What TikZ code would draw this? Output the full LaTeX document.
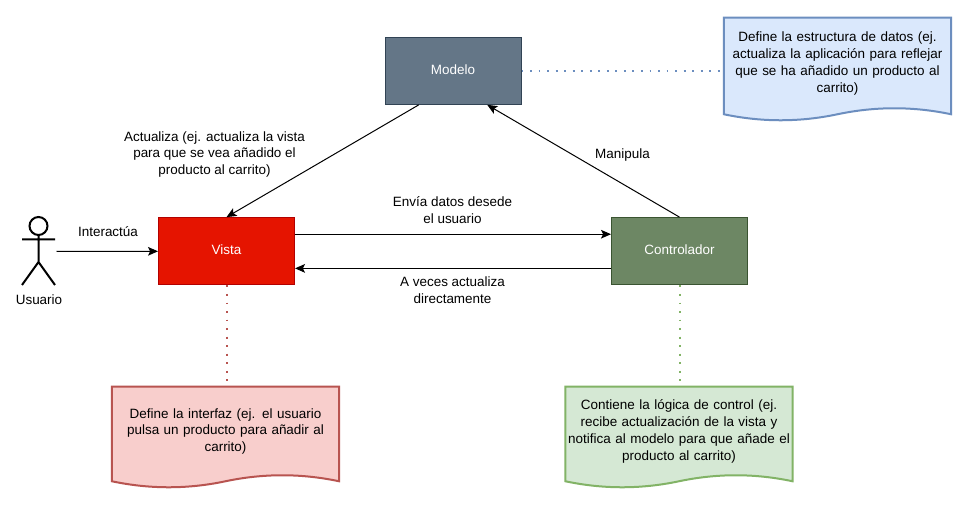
\documentclass[tikz,border=0pt]{standalone}
\usepackage{fontspec}
\setmainfont{Liberation Sans}
\usetikzlibrary{arrows.meta,calc,backgrounds}
\definecolor{modelofill}{HTML}{647687}\definecolor{modeloline}{HTML}{314354}
\definecolor{vistafill}{HTML}{E51400}\definecolor{vistaline}{HTML}{B20000}
\definecolor{ctrlfill}{HTML}{6D8764}\definecolor{ctrlline}{HTML}{3A5431}
\definecolor{bluefill}{HTML}{DAE8FC}\definecolor{blueline}{HTML}{6C8EBF}
\definecolor{redfill}{HTML}{F8CECC}\definecolor{redline}{HTML}{B85450}
\definecolor{greenfill}{HTML}{D5E8D4}\definecolor{greenline}{HTML}{82B366}
\tikzset{
  x=0.75pt,y=-0.75pt,
  txt/.style={font=\fontsize{10.1}{12.6}\selectfont,align=center,text=black,inner sep=0pt},
  mvc/.style={font=\fontsize{10.1}{12.6}\selectfont,text=white,inner sep=0pt,minimum width=102pt,minimum height=50.5pt,line width=.75pt},
  docnode/.style={font=\fontsize{10.1}{12.6}\selectfont,align=center,text=black,inner sep=0pt,minimum width=170pt,text width=170pt},
  flow/.style={line width=.75pt,draw=black,-{Stealth[length=7.5pt,width=6.5pt,inset=1.6pt]}},
  link/.style={line width=1.5pt,dash pattern=on 1.4pt off 5pt},
  actorline/.style={line width=1.5pt,draw=black}
}
\newcommand{\docwave}[3]{%
  \begin{pgfonlayer}{background}
  \coordinate (L) at ($(#1.south west)+(0,5)$);
  \coordinate (R) at ($(#1.south east)+(0,5)$);
  \draw[fill=#2,draw=#3,line width=1.5pt,line join=miter]
    (#1.north west) -- (#1.north east) -- (R)
    .. controls ($(R)!1/6!(L)+(0,-8)$) and ($(R)!1/3!(L)+(0,-8)$) .. ($(R)!1/2!(L)$)
    .. controls ($(R)!2/3!(L)+(0,8)$) and ($(R)!5/6!(L)+(0,8)$) .. (L) -- cycle;
  \end{pgfonlayer}}
\newcommand{\boxtext}[1]{\raisebox{2.1pt}{#1}}
\begin{document}
\begin{tikzpicture}
\begin{pgfonlayer}{background}
\fill[white] (0,0) rectangle (967,505);
\end{pgfonlayer}
\useasboundingbox (0,0) rectangle (967,505);
% main boxes
\node[mvc,fill=modelofill,draw=modeloline] (modelo) at (453,70.7) {\boxtext{Modelo}};
\node[mvc,fill=vistafill,draw=vistaline] (vista) at (226.5,251.3) {\boxtext{Vista}};
\node[mvc,fill=ctrlfill,draw=ctrlline] (ctrl) at (679.5,251.3) {\boxtext{Controlador}};
% note documents
\node[docnode,minimum height=68.25pt] (bluedoc) at (837.5,63.5) {Define la estructura de datos (ej.\\ actualiza la aplicación para reflejar\\ que se ha añadido un producto al\\ carrito)};
\node[docnode,minimum height=66.75pt] (reddoc) at (225.5,431.5) {Define la interfaz (ej. el usuario\\ pulsa un producto para añadir al\\ carrito)};
\node[docnode,minimum height=66.75pt] (greendoc) at (679,431.5) {Contiene la lógica de control (ej.\\ recibe actualización de la vista y\\ notifica al modelo para que añade el\\ producto al carrito)};
\docwave{bluedoc}{bluefill}{blueline}
\docwave{reddoc}{redfill}{redline}
\docwave{greendoc}{greenfill}{greenline}
% actor
\node[actorline,circle,minimum size=13.5pt,inner sep=0pt] (head) at (38.5,226) {};
\coordinate (hip) at (38.5,262);
\coordinate (armL) at (22,239.5);
\coordinate (armR) at (55,239.5);
\coordinate (footL) at (22,285);
\coordinate (footR) at (55,285);
\draw[actorline] (head.south) -- (hip) (armL) -- (armR) (footL) -- (hip) -- (footR);
\node[txt] (usuario) at (39,300) {Usuario};
\coordinate (actorout) at (56.5,251.5);
% connectors
\draw[flow] (actorout) -- (vista.west);
\draw[flow] ($(modelo.south west)!0.25!(modelo.south east)$) -- (vista.north);
\draw[flow] (ctrl.north) -- ($(modelo.south west)!0.75!(modelo.south east)$);
\draw[flow] ($(vista.north east)!0.25!(vista.south east)$) -- ($(ctrl.north west)!0.25!(ctrl.south west)$);
\draw[flow] ($(ctrl.north west)!0.75!(ctrl.south west)$) -- ($(vista.north east)!0.75!(vista.south east)$);
% dotted links
\draw[link,draw=blueline] (modelo.east) -- (modelo.east -| bluedoc.west);
\draw[link,draw=redline] (vista.south) -- (vista.south |- reddoc.north);
\draw[link,draw=greenline] (ctrl.south) -- (ctrl.south |- greendoc.north);
% labels
\node[txt] (l1) at (108,232) {Interactúa};
\node[txt] (l2) at (214.5,154.5) {Actualiza (ej. actualiza la vista\\ para que se vea añadido el\\ producto al carrito)};
\node[txt] (l3) at (622.5,155) {Manipula};
\node[txt] (l4) at (452.5,210.5) {Envía datos desede\\ el usuario};
\node[txt] (l5) at (452.5,290) {A veces actualiza\\ directamente};
\end{tikzpicture}
\end{document}
